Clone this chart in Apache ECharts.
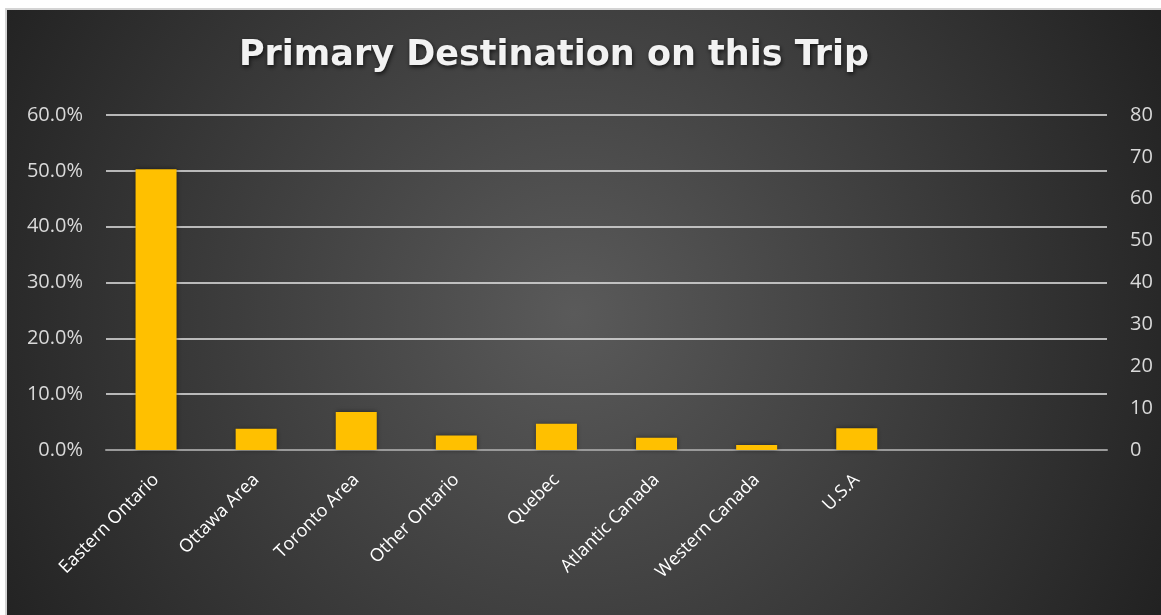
<!DOCTYPE html>
<html>
<head>
<meta charset="utf-8">
<script src="https://cdn.jsdelivr.net/npm/echarts@6/dist/echarts.min.js"></script>
<style>
html,body{margin:0;padding:0;background:#fff;}
#main{width:1161px;height:615px;}
</style>
</head>
<body>
<div id="main"></div>
<script>
const titleText = 'Primary Destination on this Trip';
const categories = ['Eastern Ontario','Ottawa Area','Toronto Area','Other Ontario','Quebec','Atlantic Canada','Western Canada','U.S.A','',''];
const percentValues = [0.503, 0.038, 0.068, 0.026, 0.047, 0.022, 0.009, 0.039, null, null];
const leftTicks = {min: 0, max: 0.6, interval: 0.1};
const rightTicks = {min: 0, max: 80, interval: 10};

const chart = echarts.init(document.getElementById('main'));
const option = {
  backgroundColor: '#ffffff',
  graphic: [{
    type: 'rect',
    z: -10,
    shape: {x: 6, y: 9, width: 1160, height: 610},
    style: {
      fill: {
        type: 'radial', x: 0.49, y: 0.5, r: 1.07,
        colorStops: [{offset: 0, color: '#5a5a5a'}, {offset: 1, color: '#222222'}]
      },
      stroke: '#d4d4d4', lineWidth: 2
    }
  }, {
    type: 'text',
    z: 10,
    x: 554,
    y: 56,
    style: {
      text: titleText,
      align: 'center',
      verticalAlign: 'middle',
      fill: '#f2f2f2',
      fontFamily: 'DejaVu Sans',
      fontWeight: 'bold',
      fontSize: 35,
      textShadowColor: 'rgba(0,0,0,0.7)', textShadowBlur: 4, textShadowOffsetX: 1, textShadowOffsetY: 2
    }
  }],
  grid: {left: 106, right: 54, top: 115, bottom: 165, containLabel: false},
  xAxis: {
    type: 'category',
    data: categories,
    axisTick: {show: false},
    axisLine: {lineStyle: {color: '#9a9a9a', width: 2}},
    axisLabel: {rotate: 45, color: '#ffffff', fontFamily: 'Open Sans', fontSize: 18, margin: 27, interval: 0}
  },
  yAxis: [{
    type: 'value',
    min: leftTicks.min, max: leftTicks.max, interval: leftTicks.interval,
    axisLine: {show: false}, axisTick: {show: false},
    axisLabel: {color: '#d9d9d9', fontFamily: 'Open Sans', fontSize: 20, margin: 23,
      formatter: v => (v * 100).toFixed(1) + '%'},
    splitLine: {lineStyle: {color: '#e6e6e6', width: 1.5}}
  }, {
    type: 'value',
    position: 'right',
    min: rightTicks.min, max: rightTicks.max, interval: rightTicks.interval,
    axisLine: {show: false}, axisTick: {show: false},
    axisLabel: {color: '#d9d9d9', fontFamily: 'Open Sans', fontSize: 20, margin: 23},
    splitLine: {show: false}
  }],
  series: [{
    type: 'bar',
    data: percentValues,
    yAxisIndex: 0,
    barWidth: 41,
    itemStyle: {color: '#FFC000', shadowColor: 'rgba(0,0,0,0.5)', shadowBlur: 5},
    animation: false
  }],
  animation: false
};
chart.setOption(option);
</script>
</body>
</html>
